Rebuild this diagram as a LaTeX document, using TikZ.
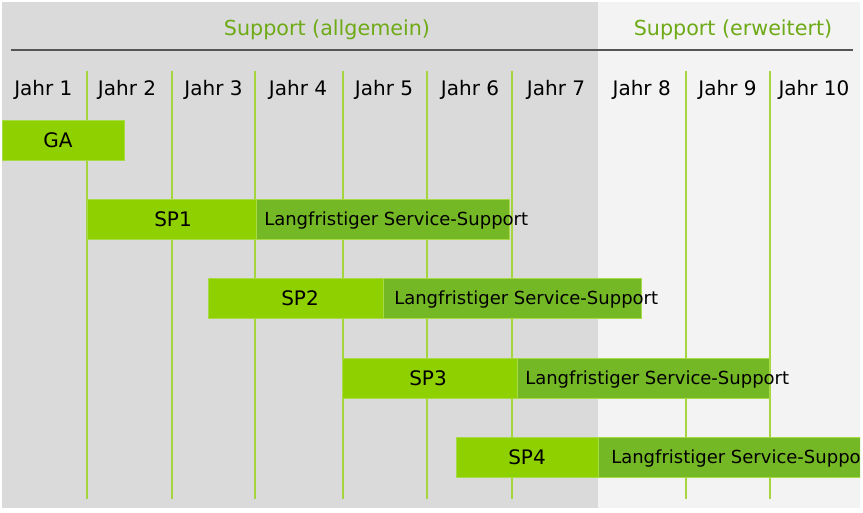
\documentclass[tikz,border=0pt]{standalone}
\usepackage{fontspec}
\setmainfont{DejaVu Sans}
\definecolor{bggrey}{RGB}{218,218,218}
\definecolor{bglight}{RGB}{243,243,243}
\definecolor{barlight}{RGB}{143,208,0}
\definecolor{bardark}{RGB}{117,184,38}
\definecolor{barborder}{RGB}{168,218,70}
\definecolor{gridgreen}{RGB}{165,213,60}
\definecolor{headgreen}{RGB}{110,170,22}
\definecolor{rulegrey}{RGB}{85,85,85}
\newcommand\ganttbar[5]{%
  \node[barbox, fill=#5, minimum width={(#3-#2)*0.75pt}] (#1) at (#2,#4) {};}
\begin{document}
\begin{tikzpicture}[x=0.75pt,y=-0.75pt,
  barbox/.style={draw=barborder, line width=0.75pt, inner sep=0pt, outer sep=0pt,
    minimum height=30pt, anchor=north west, rectangle},
  jahr/.style={anchor=base, inner sep=0pt, text=black, font=\fontsize{15}{18}\selectfont},
  head/.style={anchor=base, inner sep=0pt, text=headgreen, font=\fontsize{15.5}{18}\selectfont},
  splabel/.style={anchor=base, inner sep=0pt, text=black, font=\fontsize{15}{18}\selectfont},
  ltslabel/.style={anchor=base west, inner sep=0pt, text=black, font=\fontsize{13.5}{16}\selectfont},
  grid/.style={draw=gridgreen, line width=1.5pt}]
\useasboundingbox (0,0) rectangle (863,512);
\begin{scope}
\clip (2,2) rectangle (860,508);
\fill[bggrey] (2,2) rectangle (598,508);
\fill[bglight] (598,2) rectangle (860,508);
% header
\node[head] (hall) at (327,35.5) {Support (allgemein)};
\node[head] (herw) at (733,35.5) {Support (erweitert)};
\draw[rulegrey, line width=1.3pt] (11,50) -- (853,50);
% grid lines
\foreach \gx in {87,171.5,255,343,427,512,685.5,769.5}
  \draw[grid] (\gx,71) -- (\gx,499);
% years
\foreach \jx/\jn in {43.4/1,127/2,213.5/3,298/4,384/5,470/6,556/7,641.7/8,727.5/9,814/10}
  \node[jahr] (j\jn) at (\jx,95) {Jahr \jn};
% bars
\ganttbar{ga}{2}{124}{120}{barlight}
\ganttbar{sp1}{87}{256}{199}{barlight}
\ganttbar{lts1}{256}{509}{199}{bardark}
\ganttbar{sp2}{208}{383}{278}{barlight}
\ganttbar{lts2}{383}{641}{278}{bardark}
\ganttbar{sp3}{342}{517}{358}{barlight}
\ganttbar{lts3}{517}{769}{358}{bardark}
\ganttbar{sp4}{456}{598}{437}{barlight}
\ganttbar{lts4}{598}{861}{437}{bardark}
% labels
\node[splabel] (tga) at (58,147.3) {GA};
\node[splabel] (tsp1) at (173,226.3) {SP1};
\node[splabel] (tsp2) at (300,305.3) {SP2};
\node[splabel] (tsp3) at (428,385.3) {SP3};
\node[splabel] (tsp4) at (527,464.3) {SP4};
\node[ltslabel] (tl1) at (264,225.6) {Langfristiger Service-Support};
\node[ltslabel] (tl2) at (394,304.6) {Langfristiger Service-Support};
\node[ltslabel] (tl3) at (525,384.6) {Langfristiger Service-Support};
\node[ltslabel] (tl4) at (611,463.6) {Langfristiger Service-Support};
\end{scope}
\end{tikzpicture}
\end{document}
